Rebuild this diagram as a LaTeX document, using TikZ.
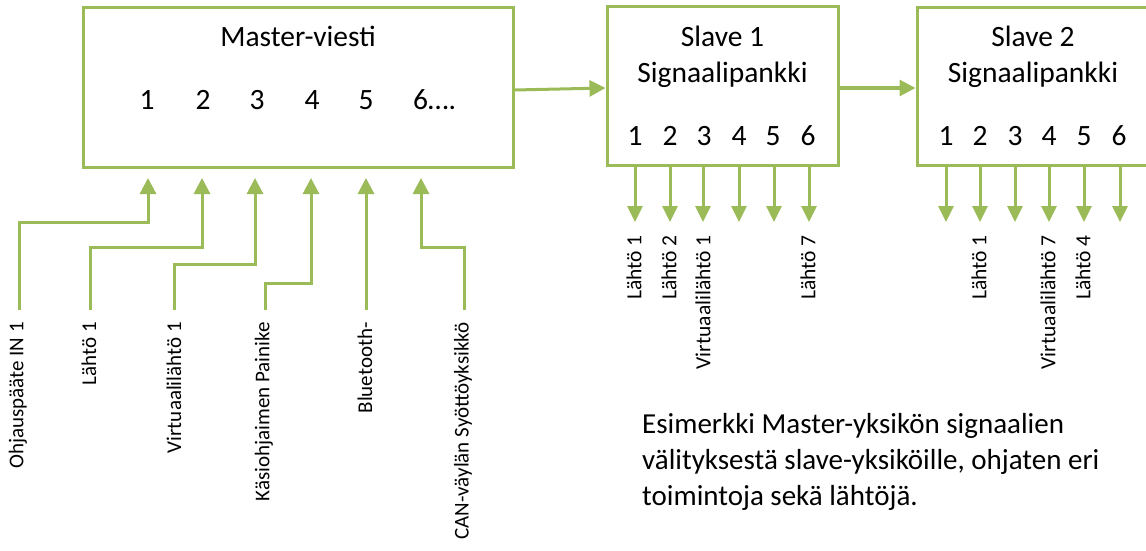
\documentclass[tikz,border=0pt]{standalone}
\usepackage{fontspec}
\setmainfont{Carlito}
\usetikzlibrary{arrows.meta}
\definecolor{lgreen}{HTML}{9BBB59}
\tikzset{
  box/.style={draw=lgreen, line width=3pt, rectangle, inner sep=0pt},
  arr/.style={draw=lgreen, line width=3pt, -{Triangle[width=16pt,length=16pt]}},
  darr/.style={draw=lgreen, line width=3pt, -{Triangle[width=15pt,length=16pt]}},
  big/.style={font=\fontsize{29.5}{36}\selectfont, inner sep=0pt},
  vlab/.style={font=\fontsize{21}{25}\selectfont, rotate=90, anchor=east, inner sep=0pt},
  slab/.style={vlab, font=\fontsize{21.5}{25}\selectfont},
}
\begin{document}
\begin{tikzpicture}[x=1pt,y=-1pt]
\useasboundingbox (0,0) rectangle (1146,551);
% boxes
\node[box, minimum width=430pt, minimum height=159pt] (master) at (298,87.5) {};
\node[box, minimum width=231pt, minimum height=158pt] (s1) at (722.5,86) {};
\node[box, minimum width=231pt, minimum height=157pt] (s2) at (1032.5,86.5) {};
% master texts
\node[big, anchor=base] (mt) at (298,47) {Master-viesti};
\foreach \x/\t [count=\i] in {147/1,203/2,257/3,312/4,366/5} {
  \node[big, anchor=base] (mn\i) at (\x,109) {\t};
}
\node[big, anchor=base west] (mn6) at (413,109) {6….};
% slave 1 texts
\node[big, anchor=base] (s1a) at (722.5,47) {Slave 1};
\node[big, anchor=base] (s1b) at (722.5,83) {Signaalipankki};
\foreach \x [count=\i] in {635,670,704,739,773,808} {
  \node[big, anchor=base] (s1n\i) at (\x,145) {\i};
}
% slave 2 texts
\node[big, anchor=base] (s2a) at (1033,47) {Slave 2};
\node[big, anchor=base] (s2b) at (1033,83) {Signaalipankki};
\foreach \x [count=\i] in {946,980,1015,1049,1084,1119} {
  \node[big, anchor=base] (s2n\i) at (\x,145) {\i};
}
% connections between boxes
\coordinate (m1) at (master.east |- 0,90);
\coordinate (m2) at (s1.west |- 0,88);
\draw[arr] (m1) -- (m2);
\coordinate (m3) at (s1.east |- 0,88);
\coordinate (m4) at (s2.west |- 0,88);
\draw[arr] (m3) -- (m4);
% slave outputs
\foreach \x [count=\i] in {635,670,703,739,774,809} {
  \coordinate (o1\i) at (\x,222);
  \draw[darr] (s1.south -| o1\i) -- (o1\i);
}
\foreach \x [count=\i] in {946,980,1015,1049,1084,1120} {
  \coordinate (o2\i) at (\x,222);
  \draw[darr] (s2.south -| o2\i) -- (o2\i);
}
\node[slab] (ol11) at (634,235) {Lähtö 1};
\node[slab] (ol12) at (669,235) {Lähtö 2};
\node[slab] (ol13) at (703,235) {Virtuaalilähtö 1};
\node[slab] (ol16) at (808,235) {Lähtö 7};
\node[slab] (ol22) at (979,235) {Lähtö 1};
\node[slab] (ol24) at (1048,235) {Virtuaalilähtö 7};
\node[slab] (ol25) at (1083,235) {Lähtö 4};
% inputs to master
\foreach \x [count=\i] in {148,202,255,311,366,421} {
  \coordinate (t\i) at (\x,178);
}
\coordinate (b1) at (19,310);  \coordinate (k1) at (148,222);
\coordinate (b2) at (90,310);  \coordinate (k2) at (202,247);
\coordinate (b3) at (174,310); \coordinate (k3) at (255,264);
\coordinate (b4) at (265,310); \coordinate (k4) at (311,283);
\coordinate (b5) at (366,310);
\coordinate (b6) at (464,310); \coordinate (k6) at (421,247);
\draw[arr] (b1) |- (k1) -- (t1);
\draw[arr] (b2) |- (k2) -- (t2);
\draw[arr] (b3) |- (k3) -- (t3);
\draw[arr] (b4) |- (k4) -- (t4);
\draw[arr] (b5) -- (t5);
\draw[arr] (b6) |- (k6) -- (t6);
\node[vlab] (l1) at (18,322) {Ohjauspääte IN 1};
\node[vlab] (l2) at (89,322) {Lähtö 1};
\node[vlab] (l3) at (174,322) {Virtuaalilähtö 1};
\node[vlab] (l4) at (264,322) {Käsiohjaimen Painike};
\node[vlab] (l5) at (365,322) {Bluetooth-};
\node[vlab] (l6) at (463,322) {CAN-väylän Syöttöyksikkö};
% caption
\node[font=\fontsize{29}{36}\selectfont, anchor=base west, align=left, inner sep=0pt] (cap) at (642,505)
  {Esimerkki Master-yksikön signaalien\\välityksestä slave-yksiköille, ohjaten eri\\toimintoja sekä lähtöjä.};
\end{tikzpicture}
\end{document}
